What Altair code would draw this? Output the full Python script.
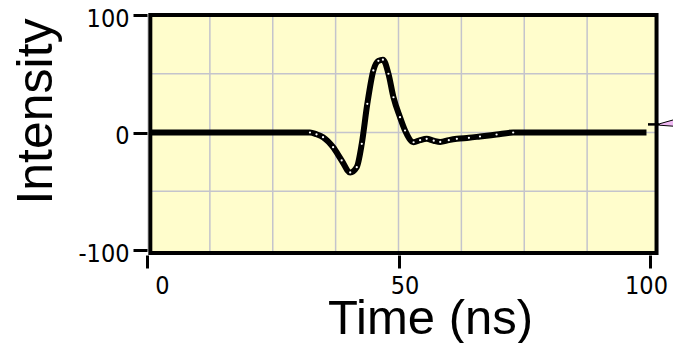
import altair as alt
import pandas as pd

# Waveform (time in ns, intensity)
time_ns = [0.5, 32.4, 33.7, 35.0, 37.0, 38.7, 40.4, 41.7, 42.7, 43.8, 45.0, 46.0, 46.9,
           48.0, 49.0, 50.3, 51.3, 53.0, 54.3, 55.6, 57.0, 58.3, 60.0, 61.6, 64.0,
           66.2, 69.5, 72.8, 99.3]
intensity = [0, 0, -1.5, -4, -12.5, -23.8, -34, -29.5, -9.6, 24.4, 52.8, 61, 62,
             50, 30, 13, 1.7, -8.3, -6.5, -5.4, -7, -8, -6.5, -5.4, -4.5,
             -3.4, -1.7, 0, 0]

# Axis ticks and grid
x_ticks = [0, 50, 100]
y_ticks = [-100, 0, 100]
x_grid = [12.5, 25, 37.5, 50, 62.5, 75, 87.5]
y_grid = [-50, 0, 50]

# Frame extent (data units)
frame_t = [0.66, 101.3]
frame_v = [-102.5, 100]

# Pointer annotation at the right edge
arrow_t = [101.9, 106.5]
arrow_top = [7.4, 13.0]
arrow_bot = [6.2, 4.8]
tail_t = [99.6, 101.9]
tail_v = [6.9, 6.9]

LABEL_FONT = "DejaVu Sans Condensed, DejaVu Sans"
TITLE_FONT = "Liberation Sans"

xscale = alt.Scale(domain=[0, 100], nice=False, zero=False)
yscale = alt.Scale(domain=[-100, 100], nice=False, zero=False)

x_axis = alt.Axis(values=x_ticks, grid=False, domain=False, tickColor="black",
                  tickWidth=3, tickSize=13, offset=5, labelFont=LABEL_FONT,
                  labelFontSize=25, labelColor="black", labelPadding=5,
                  labelOffset={"condition": [
                      {"test": "datum.value == 0", "value": 15},
                      {"test": "datum.value == 100", "value": -4}],
                      "value": 6},
                  labelExpr="'' + datum.value",
                  labelFlush=False, title="Time (ns)",
                  titleFont=TITLE_FONT, titleFontSize=49, titleFontWeight="normal",
                  titleColor="black", titleX=283, titleY=78,
                  titleBaseline="alphabetic", titleAlign="center", zindex=1)
y_axis = alt.Axis(values=y_ticks, grid=False, domain=False, tickColor="black",
                  tickWidth=3, tickSize=14, labelFont=LABEL_FONT, labelFontSize=25,
                  labelColor="black", labelPadding=4, labelOffset=3,
                  labelExpr="'' + datum.value", labelFlush=False,
                  title="Intensity", titleFont=TITLE_FONT, titleFontSize=50,
                  titleFontWeight="normal", titleColor="black", titleX=-96,
                  titleY=96, titleAngle=270, titleBaseline="alphabetic",
                  titleAlign="center", zindex=1)

X = alt.X("t:Q", scale=xscale, axis=x_axis)
Y = alt.Y("v:Q", scale=yscale, axis=y_axis)

wave = pd.DataFrame({"t": time_ns, "v": intensity})
frame = pd.DataFrame({"t": [frame_t[0]], "t2": [frame_t[1]],
                      "v": [frame_v[1]], "v2": [frame_v[0]]})
vgrid = pd.DataFrame({"t": x_grid, "v": [frame_v[1]] * len(x_grid),
                      "v2": [frame_v[0]] * len(x_grid)})
hgrid = pd.DataFrame({"v": y_grid, "t": [frame_t[0]] * len(y_grid),
                      "t2": [frame_t[1]] * len(y_grid)})
arrow = pd.DataFrame({"t": arrow_t, "v": arrow_top, "v2": arrow_bot})
tail = pd.DataFrame({"t": tail_t, "v": tail_v})

bg = alt.Chart(frame).mark_rect(fill="#fffdcc", strokeWidth=0).encode(
    x=X, x2="t2:Q", y=Y, y2="v2:Q")
vg = alt.Chart(vgrid).mark_rule(color="#c4c4cc", strokeWidth=1.5).encode(
    x=X, y=Y, y2="v2:Q")
hg = alt.Chart(hgrid).mark_rule(color="#c4c4cc", strokeWidth=1.5).encode(
    x=X, x2="t2:Q", y=Y)
line = alt.Chart(wave).mark_line(color="black", strokeWidth=6,
                                 interpolate="monotone").encode(x=X, y=Y)
dots = alt.Chart(wave[(wave.t > 32) & (wave.t < 73)]).mark_point(
    filled=True, color="white", size=5, opacity=1).encode(x=X, y=Y)
border = alt.Chart(frame).mark_rect(fill=None, stroke="black", strokeWidth=4).encode(
    x=X, x2="t2:Q", y=Y, y2="v2:Q")
arr = alt.Chart(arrow).mark_area(color="#eeb8f2", stroke="black", strokeWidth=1,
                                 clip=False).encode(x=X, y=Y, y2="v2:Q")
tl = alt.Chart(tail).mark_line(color="black", strokeWidth=2.5, clip=False).encode(
    x=X, y=Y)

chart = alt.layer(bg, vg, hg, line, dots, border, tl, arr).properties(
    width=503, height=235,
    padding={"left": 139, "top": 7, "right": 23, "bottom": 93},
    autosize=alt.AutoSizeParams(type="none"),
).configure_view(stroke=None).configure(background="white")

chart.save("out.html", embed_options={"renderer": "svg", "actions": False})
